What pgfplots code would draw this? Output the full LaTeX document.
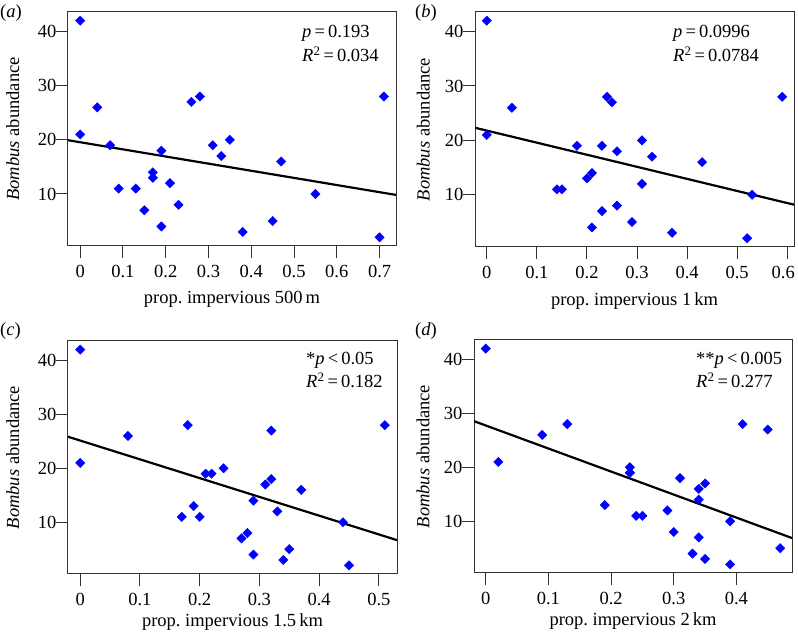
\documentclass[border=0pt]{standalone}
\usepackage{fontspec}
\setmainfont{Liberation Serif}
\usepackage{pgfplots}
\pgfplotsset{compat=1.18}
\newcommand{\fs}{\fontsize{18.5}{22}\selectfont}
\pgfplotsset{
 panel/.style={
  scale only axis, anchor=south west,
  axis line style={line width=1pt, black!80},
  every tick/.style={line width=1pt, black!80},
  tick align=outside, tick pos=left, major tick length=12pt,
  ymin=0.4, ymax=43.6, ytick={10,20,30,40},
  /pgf/number format/assume math mode=true,
  xticklabel={\pgfmathprintnumber[fixed,precision=1,assume math mode=true]{\tick}},
  yticklabel={\pgfmathprintnumber[assume math mode=true]{\tick}},
  tick label style={font=\fs},
  xticklabel style={yshift=-4pt},
  yticklabel style={xshift=4pt},
  every axis label/.append style={font=\fs},
  ylabel={\textit{Bombus} abundance},
  ylabel style={at={(axis description cs:-0.168,0.5)}, anchor=center, rotate=0},
  xlabel style={at={(axis description cs:0.5,-0.23)}, anchor=center},
 },
 pts/.style={only marks, mark=square*, mark size=3.3pt, color=blue, mark options={rotate=45, fill=blue, draw=blue}},
 fit/.style={no marks, black, line width=2.2pt},
}
\pgfplotstableread{
x y
0 42
0.04 26
0 21
0.07 19
0.09 11
0.13 11
0.15 7
0.17 14
0.17 13
0.19 18
0.19 4
0.21 12
0.23 8
0.26 27
0.28 28
0.31 19
0.33 17
0.35 20
0.38 3
0.45 5
0.47 16
0.55 10
0.70 2
0.71 28
}\dataA
\pgfplotstableread{
x y
0 42
0.05 26
0 21
0.18 19
0.14 11
0.15 11
0.20 13
0.21 14
0.21 4
0.23 19
0.23 7
0.24 28
0.25 27
0.26 18
0.26 8
0.29 5
0.31 20
0.31 12
0.33 17
0.37 3
0.43 16
0.52 2
0.53 10
0.59 28
}\dataB
\pgfplotstableread{
x y
0 42
0 21
0.08 26
0.18 28
0.17 11
0.19 13
0.20 11
0.21 19
0.22 19
0.24 20
0.27 7
0.28 8
0.29 4
0.29 14
0.31 17
0.32 18
0.32 27
0.33 12
0.34 3
0.35 5
0.37 16
0.44 10
0.45 2
0.51 28
}\dataC
\pgfplotstableread{
x y
0 42
0.02 21
0.09 26
0.13 28
0.19 13
0.23 20
0.23 19
0.23 19
0.24 11
0.25 11
0.29 12
0.30 8
0.31 18
0.33 4
0.34 14
0.34 16
0.34 7
0.35 17
0.35 3
0.39 10
0.39 2
0.41 28
0.45 27
0.47 5
}\dataD
\begin{document}
\begin{tikzpicture}
\useasboundingbox (0pt,0pt) rectangle (798pt,632pt);
% (a)
\begin{axis}[panel, at={(68pt,386pt)}, width=328pt, height=234pt,
  xmin=-0.0284, xmax=0.7384, xtick={0,0.1,...,0.7},
  xlabel={prop.\ impervious 500\,m}]
\addplot[pts] table {\dataA};
\addplot[fit] coordinates {(-0.0284,19.93) (0.7384,9.83)};
\end{axis}
% (b)
\begin{axis}[panel, at={(475pt,385pt)}, width=319pt, height=235pt,
  xmin=-0.0236, xmax=0.6136, xtick={0,0.1,0.2,0.3,0.4,0.5,0.6},
  xticklabels={0,0.1,0.2,0.3,0.4,0.5,{\kern-8pt 0.6}},
  ylabel style={at={(axis description cs:-0.162,0.5)}},
  xlabel={prop.\ impervious 1\,km}]
\addplot[pts] table {\dataB};
\addplot[fit] coordinates {(-0.0236,22.32) (0.6136,8.18)};
\end{axis}
% (c)
\begin{axis}[panel, at={(68pt,58pt)}, width=329pt, height=233pt,
  xmin=-0.0204, xmax=0.5304, xtick={0,0.1,...,0.5},
  xlabel style={at={(axis description cs:0.5,-0.207)}},
  xlabel={prop.\ impervious 1.5\,km}]
\addplot[pts] table {\dataC};
\addplot[fit] coordinates {(-0.0204,25.85) (0.5304,6.68)};
\end{axis}
% (d)
\begin{axis}[panel, at={(474pt,59pt)}, width=318pt, height=233pt,
  xmin=-0.0188, xmax=0.4888, xtick={0,0.1,...,0.4},
  ylabel style={at={(axis description cs:-0.160,0.5)}},
  xlabel style={at={(axis description cs:0.5,-0.207)}},
  xlabel={prop.\ impervious 2\,km}]
\addplot[pts] table {\dataD};
\addplot[fit] coordinates {(-0.0188,28.55) (0.4888,6.88)};
\end{axis}
% panel letters
\node[anchor=west, font=\fs, inner sep=0pt] at (0pt,619pt) {(\textit{a})};
\node[anchor=west, font=\fs, inner sep=0pt] at (415pt,619pt) {(\textit{b})};
\node[anchor=west, font=\fs, inner sep=0pt] at (0pt,301pt) {(\textit{c})};
\node[anchor=west, font=\fs, inner sep=0pt] at (415pt,301pt) {(\textit{d})};
% statistics
\node[anchor=base west, font=\fs, inner sep=0pt] at (302pt,594pt) {\textit{p}\,=\,0.193};
\node[anchor=base west, font=\fs, inner sep=0pt] at (302pt,570pt) {\textit{R}\textsuperscript{2}\,=\,0.034};
\node[anchor=base west, font=\fs, inner sep=0pt] at (673pt,594pt) {\textit{p}\,=\,0.0996};
\node[anchor=base west, font=\fs, inner sep=0pt] at (673pt,570pt) {\textit{R}\textsuperscript{2}\,=\,0.0784};
\node[anchor=base west, font=\fs, inner sep=0pt] at (306pt,267pt) {*\textit{p}\,<\,0.05};
\node[anchor=base west, font=\fs, inner sep=0pt] at (306pt,244pt) {\textit{R}\textsuperscript{2}\,=\,0.182};
\node[anchor=base west, font=\fs, inner sep=0pt] at (696pt,267pt) {**\textit{p}\,<\,0.005};
\node[anchor=base west, font=\fs, inner sep=0pt] at (696pt,244pt) {\textit{R}\textsuperscript{2}\,=\,0.277};
\end{tikzpicture}
\end{document}
